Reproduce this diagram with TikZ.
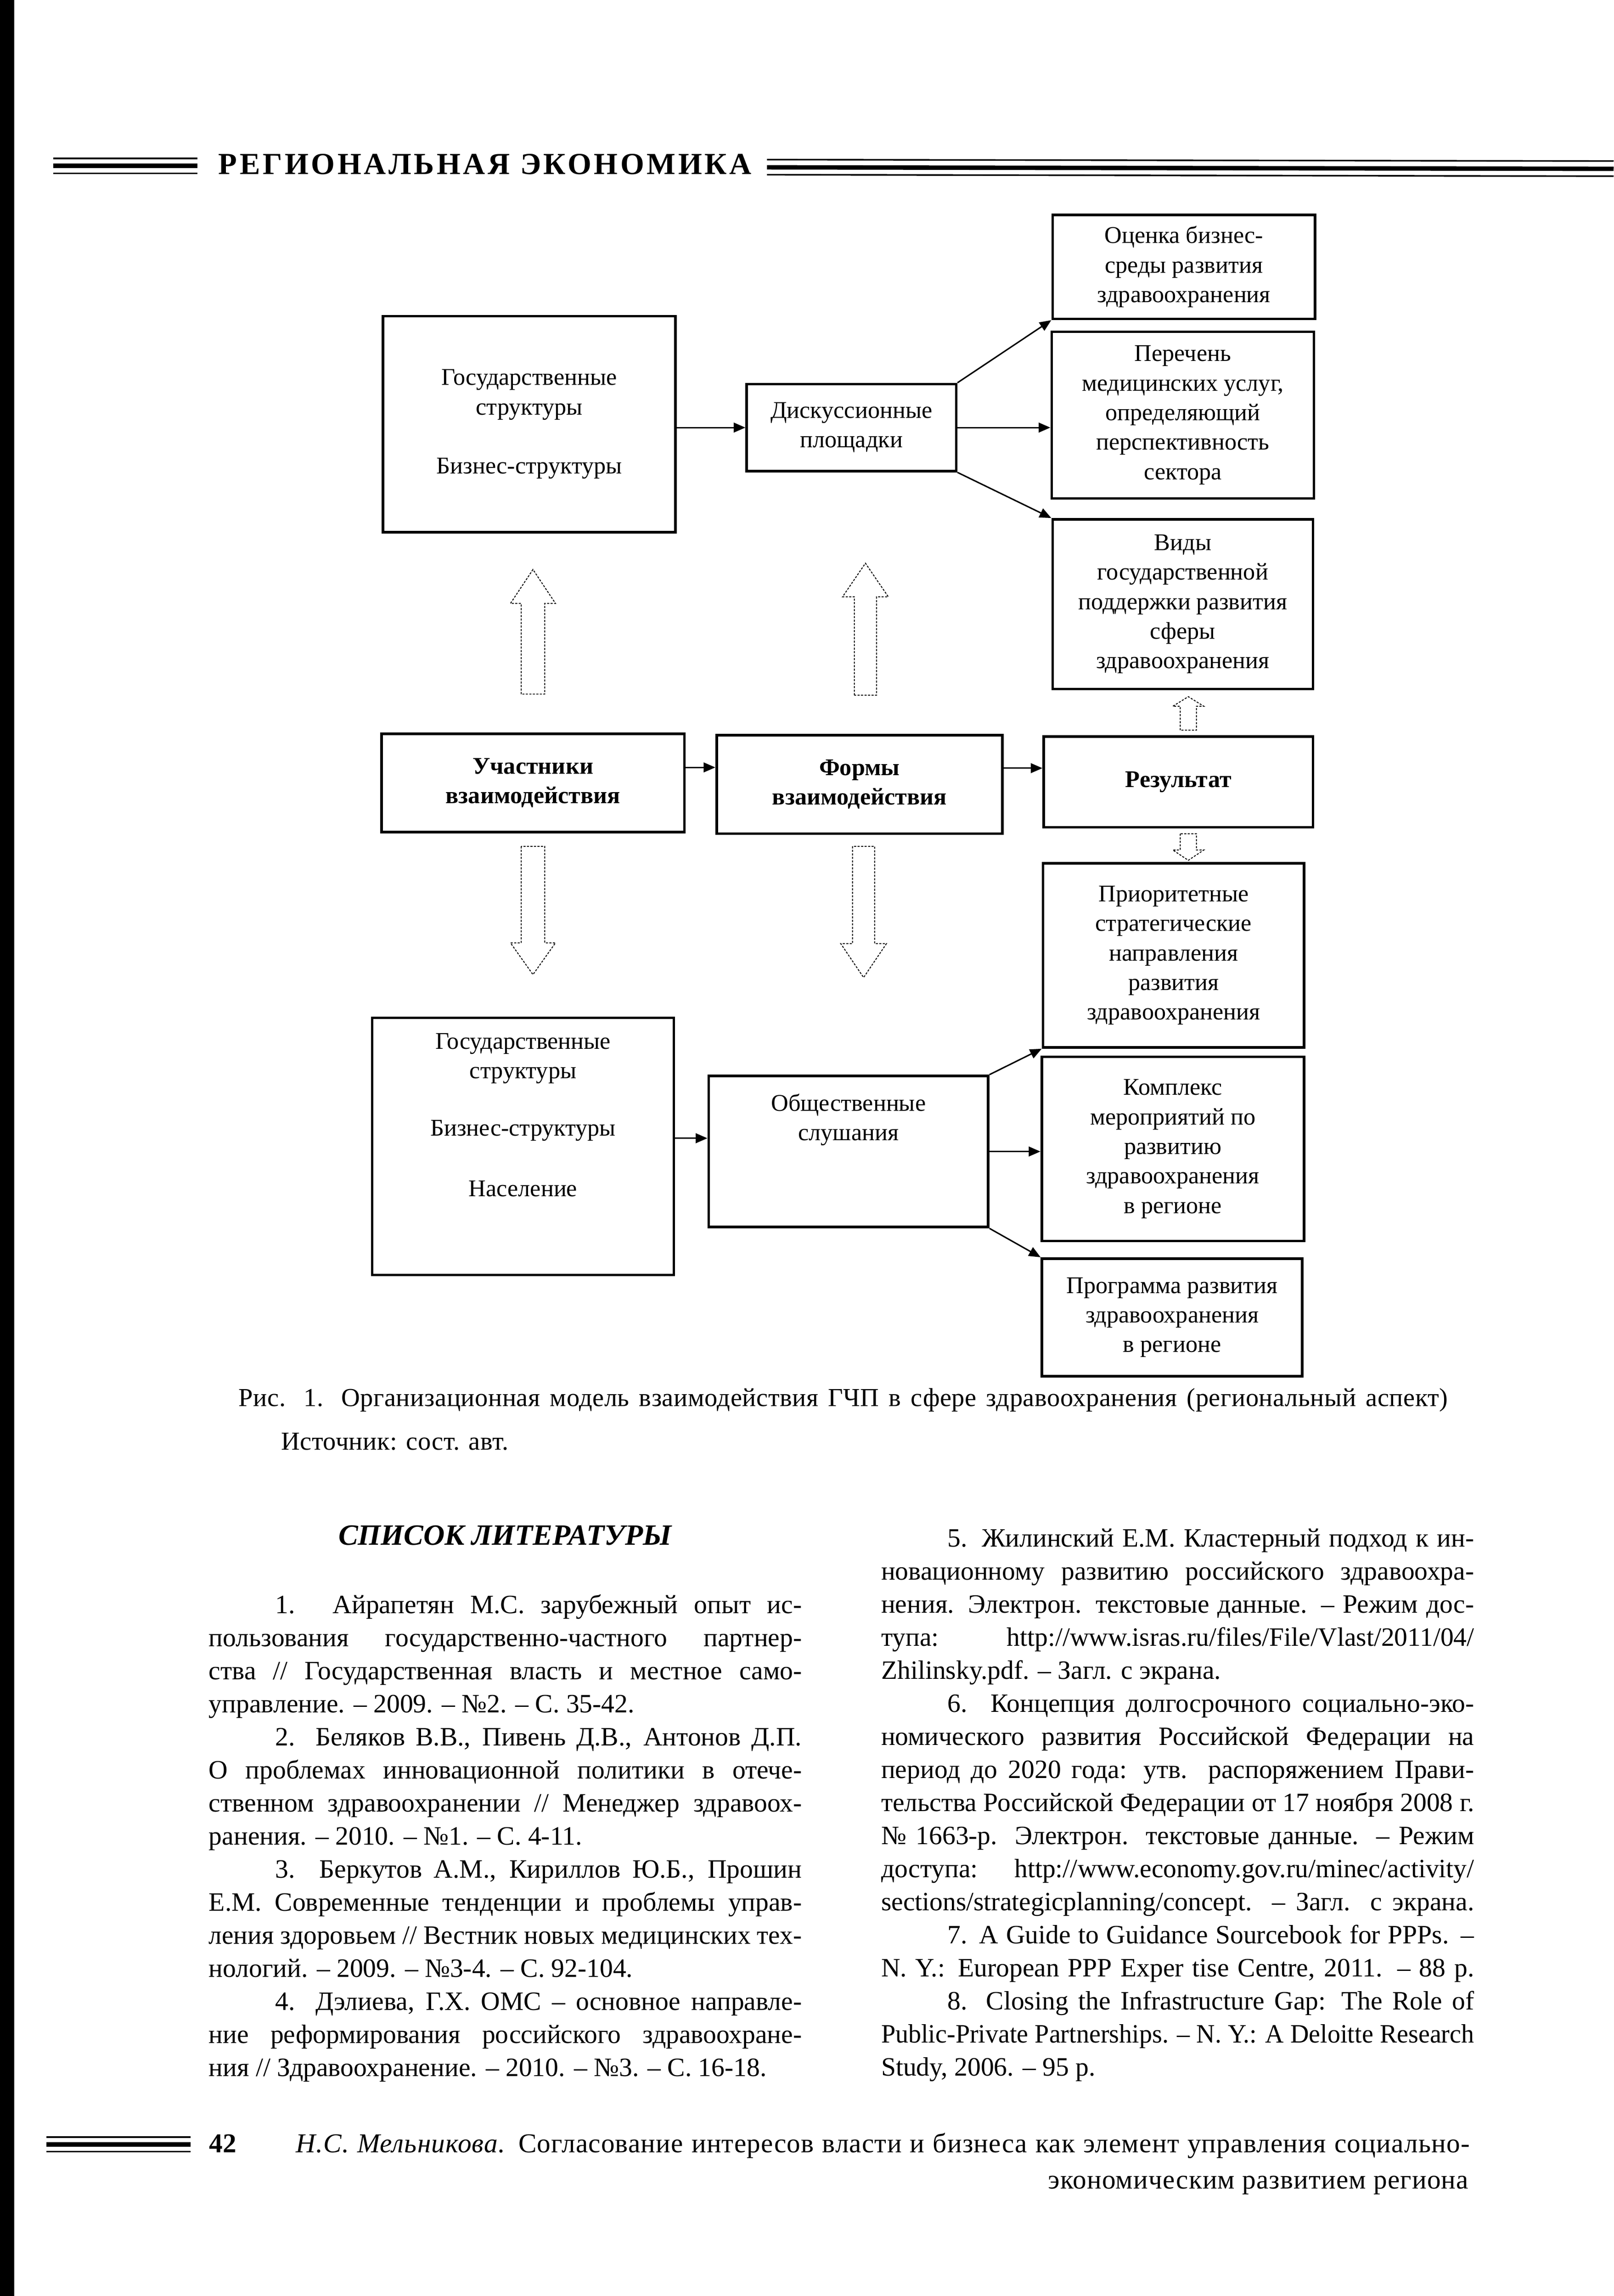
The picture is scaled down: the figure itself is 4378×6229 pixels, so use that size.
\documentclass[tikz,border=0pt]{standalone}
\usepackage{fontspec}
\setmainfont{Liberation Serif}
\usepackage{graphicx}
\usetikzlibrary{arrows.meta}

\newlength\colw \setlength\colw{16.08cm}
\newlength\natw
% full justified line (squeezed if too long)
\newcommand\jline[2][0pt]{\noindent\hspace*{#1}\settowidth\natw{#2}%
  \ifdim\natw>\dimexpr\colw-#1\relax
    \pgfmathsetmacro\squeeze{(\colw-#1)/\natw}%
    \scalebox{\squeeze}[1]{#2}%
  \else\makebox[\dimexpr\colw-#1\relax][s]{#2}\fi\par}
% last line of an entry
\newcommand\lline[2][0pt]{\noindent\hspace*{#1}#2\par}
\newcommand\bodyfont{\fontsize{20.4}{25.5}\selectfont}

\begin{document}
\begin{tikzpicture}[x=0.01cm,y=-0.01cm,
  box/.style={draw,line width=2pt,align=center,inner sep=0pt,font=\fontsize{18.5}{22.8}\selectfont},
  boldbox/.style={box,font=\fontsize{18.5}{22.8}\selectfont\bfseries},
  conn/.style={line width=1.1pt,-{Triangle[length=9pt,width=7.5pt]}},
  hollow/.style={line width=0.7pt,dash pattern=on 1.6pt off 1.1pt},
  thinrule/.style={line width=1.2pt},
  thickrule/.style={line width=3.4pt}]
\useasboundingbox (0,0) rectangle (4378,6229);
\fill[white] (0,0) rectangle (4378,6229);
\fill[black] (0,0) rectangle (38,6229);

% running head
\draw[thinrule] (145,430) -- (536,430);
\draw[thickrule] (145,450) -- (536,450);
\draw[thinrule] (145,470) -- (536,470);
\draw[thinrule] (2081,433) -- (4378,437);
\draw[thickrule] (2081,454) -- (4378,458);
\draw[thinrule] (2081,474) -- (4378,478);
\node[anchor=base west,inner sep=0pt,font=\fontsize{23.6}{28}\selectfont\bfseries\addfontfeature{LetterSpace=8.5}] (journal) at (592,473) {РЕГИОНАЛЬНАЯ ЭКОНОМИКА};

% upper row
\node[box,minimum width=7.93cm,minimum height=5.86cm] (gos1) at (1436,1151) {Государственные\\структуры\\[0.8cm]Бизнес-структуры};
\node[box,minimum width=5.68cm,minimum height=2.36cm] (disc) at (2310,1160) {Дискуссионные\\площадки};
\node[box,minimum width=7.12cm,minimum height=2.82cm] (res1) at (3212,724) {Оценка бизнес-\\среды развития\\здравоохранения};
\node[box,minimum width=7.11cm,minimum height=4.52cm] (res2) at (3209,1126) {Перечень\\медицинских услуг,\\определяющий\\перспективность\\сектора};
\node[box,minimum width=7.06cm,minimum height=4.60cm] (res3) at (3209,1639) {Виды\\государственной\\поддержки развития\\сферы\\здравоохранения};

% middle row
\node[boldbox,minimum width=8.21cm,minimum height=2.67cm] (part) at (1446,2124) {Участники\\взаимодействия};
\node[boldbox,minimum width=7.75cm,minimum height=2.67cm] (form) at (2332,2128) {Формы\\взаимодействия};
\node[boldbox,minimum width=7.30cm,minimum height=2.46cm] (result) at (3197,2121) {Результат};

% lower row
\node[box,minimum width=8.18cm,minimum height=6.97cm] (gos2) at (1419,3110) {Государственные\\структуры\\[0.75cm]Бизнес-структуры\\[0.85cm]Население\\[0.9cm]\mbox{}};
\node[box,minimum width=7.58cm,minimum height=4.10cm] (hear) at (2302,3124) {Общественные\\слушания\\[1.06cm]\mbox{}};
\node[box,minimum width=7.08cm,minimum height=4.99cm] (res4) at (3184,2592) {Приоритетные\\стратегические\\направления\\развития\\здравоохранения};
\node[box,minimum width=7.11cm,minimum height=4.99cm] (res5) at (3182,3117) {Комплекс\\мероприятий по\\развитию\\здравоохранения\\в регионе};
\node[box,minimum width=7.06cm,minimum height=3.19cm] (res6) at (3180,3574) {Программа развития\\здравоохранения\\в регионе};

% arrows
\draw[conn] (gos1.east |- disc.west) -- (disc.west);
\draw[conn] (disc.north east) -- (res1.south west);
\draw[conn] (disc.east) -- (disc.east -| res2.west);
\draw[conn] (disc.south east) -- (res3.north west);
\draw[conn] ([yshift=0.42cm]part.east) -- ([yshift=0.42cm]part.east -| form.west);
\draw[conn] ([yshift=0.44cm]form.east) -- ([yshift=0.44cm]form.east -| result.west);
\draw[conn] ([yshift=0.22cm]gos2.east) -- ([yshift=0.22cm]gos2.east -| hear.west);
\draw[conn] (hear.north east) -- (res4.south west);
\draw[conn] (hear.east) -- (hear.east -| res5.west);
\draw[conn] (hear.south east) -- (res6.north west);

% hollow dashed arrows
\draw[hollow] (1414,1883) -- (1414,1637) -- (1385,1637) -- (1446,1545) -- (1507,1637) -- (1478,1637) -- (1478,1883) -- cycle;
\draw[hollow] (2318,1886) -- (2318,1619) -- (2286,1619) -- (2348,1528) -- (2410,1619) -- (2378,1619) -- (2378,1886) -- cycle;
\draw[hollow] (1414,2296) -- (1414,2558) -- (1385,2558) -- (1446,2644) -- (1507,2558) -- (1478,2558) -- (1478,2296) -- cycle;
\draw[hollow] (2313,2296) -- (2313,2560) -- (2281,2560) -- (2343,2652) -- (2405,2560) -- (2373,2560) -- (2373,2296) -- cycle;
\draw[hollow] (3202,1981) -- (3202,1916) -- (3182,1916) -- (3224,1890) -- (3266,1916) -- (3246,1916) -- (3246,1981) -- cycle;
\draw[hollow] (3202,2262) -- (3202,2306) -- (3182,2306) -- (3224,2334) -- (3266,2306) -- (3246,2306) -- (3246,2262) -- cycle;

% caption
\node[anchor=base west,inner sep=0pt,font=\fontsize{20}{24}\selectfont\addfontfeature{LetterSpace=1}] (caption) at (647,3815) {\makebox[32.79cm][s]{Рис. 1. Организационная модель взаимодействия ГЧП в сфере здравоохранения (региональный аспект)}};
\node[anchor=base west,inner sep=0pt,font=\fontsize{20}{24}\selectfont\addfontfeature{LetterSpace=1}] (source) at (762,3933) {Источник: сост. авт.};

% references
\node[anchor=base,inner sep=0pt,font=\fontsize{22.7}{27}\selectfont\bfseries\itshape] (refhead) at (1370,4192) {СПИСОК ЛИТЕРАТУРЫ};
\node[anchor=base west,inner sep=0pt] (refsleft) at (566,4377) {\begin{minipage}[t]{\colw}\bodyfont\parskip=0pt
\jline[1.8cm]{1. Айрапетян М.С. зарубежный опыт ис-}
\jline{пользования государственно-частного партнер-}
\jline{ства // Государственная власть и местное само-}
\lline{управление. – 2009. – №2. – С. 35-42.}
\jline[1.8cm]{2. Беляков В.В., Пивень Д.В., Антонов Д.П.}
\jline{О проблемах инновационной политики в отече-}
\jline{ственном здравоохранении // Менеджер здравоох-}
\lline{ранения. – 2010. – №1. – С. 4-11.}
\jline[1.8cm]{3. Беркутов А.М., Кириллов Ю.Б., Прошин}
\jline{Е.М. Современные тенденции и проблемы управ-}
\jline{ления здоровьем // Вестник новых медицинских тех-}
\lline{нологий. – 2009. – №3-4. – С. 92-104.}
\jline[1.8cm]{4. Дэлиева, Г.Х. ОМС – основное направле-}
\jline{ние реформирования российского здравоохране-}
\lline{ния // Здравоохранение. – 2010. – №3. – С. 16-18.}
\end{minipage}};
\node[anchor=base west,inner sep=0pt] (refsright) at (2390,4197) {\begin{minipage}[t]{\colw}\bodyfont\parskip=0pt
\jline[1.8cm]{5. Жилинский Е.М. Кластерный подход к ин-}
\jline{новационному развитию российского здравоохра-}
\jline{нения. Электрон. текстовые данные. – Режим дос-}
\jline{тупа: http://www.isras.ru/files/File/Vlast/2011/04/}
\lline{Zhilinsky.pdf. – Загл. с экрана.}
\jline[1.8cm]{6. Концепция долгосрочного социально-эко-}
\jline{номического развития Российской Федерации на}
\jline{период до 2020 года: утв. распоряжением Прави-}
\jline{тельства Российской Федерации от 17 ноября 2008 г.}
\jline{№ 1663-р. Электрон. текстовые данные. – Режим}
\jline{доступа: http://www.economy.gov.ru/minec/activity/}
\jline{sections/strategicplanning/concept. – Загл. с экрана.}
\jline[1.8cm]{7. A Guide to Guidance Sourcebook for PPPs. –}
\jline{N. Y.: European PPP Exper tise Centre, 2011. – 88 p.}
\jline[1.8cm]{8. Closing the Infrastructure Gap: The Role of}
\jline{Public-Private Partnerships. – N. Y.: A Deloitte Research}
\lline{Study, 2006. – 95 p.}
\end{minipage}};

% running foot
\draw[thinrule] (126,5798) -- (517,5798);
\draw[thickrule] (126,5818) -- (517,5818);
\draw[thinrule] (126,5837) -- (517,5837);
\node[anchor=base west,inner sep=0pt,font=\fontsize{21}{25}\selectfont\bfseries] (folio) at (567,5840) {42};
\node[anchor=base west,inner sep=0pt,font=\fontsize{21}{28.5}\selectfont\addfontfeature{LetterSpace=2}] (foot1) at (802,5840) {\makebox[31.83cm][s]{\textit{Н.С. Мельникова.} Согласование интересов власти и бизнеса как элемент управления социально-}};
\node[anchor=base east,inner sep=0pt,font=\fontsize{21}{28.5}\selectfont\addfontfeature{LetterSpace=2}] (foot2) at (3985,5938) {экономическим развитием региона};
\end{tikzpicture}
\end{document}
